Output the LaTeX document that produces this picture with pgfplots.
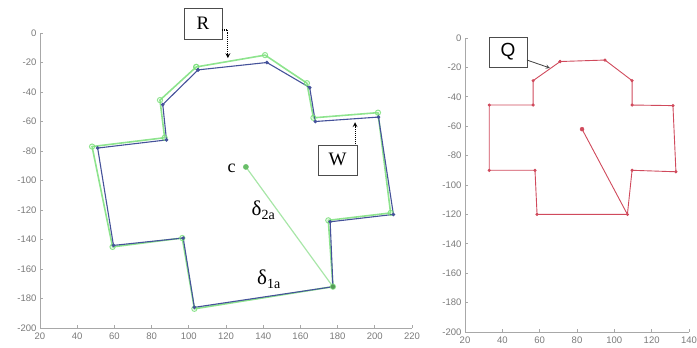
\documentclass[border=0pt]{standalone}
\usepackage{pgfplots}
\pgfplotsset{compat=1.18}
\usepackage{fontspec}
\setmainfont{Liberation Serif}
\setsansfont{Liberation Sans}
\definecolor{axgray}{HTML}{A8A8A8}
\definecolor{labgray}{HTML}{7A7A7A}
\definecolor{bl}{HTML}{45529A}
\definecolor{gr}{HTML}{7ADF7A}
\definecolor{lgr}{HTML}{A8E6A8}
\definecolor{rd}{HTML}{D04A5C}
\newcommand{\dl}[1]{{\fontsize{21}{21}\selectfont δ}\raisebox{-4pt}{\fontsize{14}{14}\selectfont #1}}
\pgfplotsset{
  mystyle/.style={
    scale only axis, clip=false,
    axis x line*=bottom, axis y line*=left,
    x axis line style={-, draw=axgray, line width=0.9pt},
    y axis line style={-, draw=axgray, line width=0.9pt},
    tick style={draw=axgray, line width=0.7pt},
    tick align=inside, major tick length=3pt,
    ticklabel style={font=\fontsize{9.5}{9.5}\selectfont\sffamily, text=labgray},
    ymin=-200, ymax=0,
    ytick={-200,-180,...,0},
    yticklabels={-200,-180,-160,-140,-120,-100,-80,-60,-40,-20,0},
    xticklabel style={yshift=-1pt},
  }
}
\begin{document}
\begin{tikzpicture}
% left panel
\begin{axis}[mystyle, at={(40pt,20pt)}, anchor=south west, width=372pt, height=295pt,
  xmin=20, xmax=220, xtick={20,40,...,220},
  xticklabels={20,40,60,80,100,120,140,160,180,200,220}]
\addplot[lgr, line width=1.2pt] coordinates {(130.7,-90.8) (177.5,-172)};
\addplot[gr, line width=1.6pt, opacity=0.85, mark=o, mark size=2.6pt, mark options={line width=1pt}] coordinates {
(104,-23) (141,-15) (163.5,-34) (167,-57.5) (201.7,-54) (208.5,-122) (175,-127) (177.5,-172)
(103,-187) (96.5,-139) (59,-145) (48,-77) (87,-71) (84.5,-45.5) (104,-23)};
\addplot[bl, line width=1.1pt, mark=*, mark size=1.2pt] coordinates {
(105,-25) (142,-20) (165,-37) (168,-60) (202,-57) (210,-123) (176,-128) (177.5,-172)
(103,-186) (97,-139) (59.5,-144) (51,-78) (88,-72.5) (86,-48.5) (105,-25)};
\addplot[only marks, mark=*, mark size=2.6pt, color=gr!85!black] coordinates {(130.7,-90.8)};
\addplot[only marks, mark=*, mark size=2pt, color=gr!70!black] coordinates {(177.5,-172)};
\node[font=\fontsize{18}{18}\selectfont] at (axis cs:123,-92) {c};
\node at (axis cs:140,-120) {\dl{2a}};
\node at (axis cs:143,-167) {\dl{1a}};
\node[draw=black!70, line width=0.6pt, fill=white, minimum width=38pt, minimum height=31pt, inner sep=0pt, font=\fontsize{19}{19}\selectfont] at (axis cs:107.6,6.4) {R};
\draw[densely dotted, line width=1.1pt, -stealth] (axis cs:117.8,2) -- (axis cs:121,2) -- (axis cs:121,-17);
\node[draw=black!70, line width=0.6pt, fill=white, minimum width=39pt, minimum height=30pt, inner sep=0pt, font=\fontsize{19}{19}\selectfont] at (axis cs:180,-86) {W};
\draw[densely dotted, line width=1.1pt, -stealth] (axis cs:189.4,-75.5) -- (axis cs:189.4,-60.5);
\end{axis}
% right panel
\begin{axis}[mystyle, at={(465pt,16pt)}, anchor=south west, width=224pt, height=294pt,
  xmin=20, xmax=140, xtick={20,40,...,140},
  xticklabels={20,40,60,80,100,120,140}]
\addplot[rd, line width=0.9pt, mark=*, mark size=1.1pt] coordinates {
(71,-16) (95,-15) (109.5,-29) (109.5,-45.6) (131.4,-46) (133,-91) (109.5,-90) (107,-120)
(58.6,-120) (57.5,-90) (33,-90) (33,-45.6) (56.5,-45.6) (56.5,-29) (71,-16)};
\addplot[rd, line width=0.9pt] coordinates {(82.7,-62) (107,-120)};
\addplot[only marks, mark=*, mark size=2pt, color=rd] coordinates {(82.7,-62)};
\node[draw=black!70, line width=0.6pt, fill=white, minimum width=38pt, minimum height=30pt, inner sep=0pt, font=\sffamily\fontsize{19}{19}\selectfont] at (axis cs:43,-9.5) {Q};
\draw[line width=0.8pt, black!75, -stealth] (axis cs:53.2,-15) -- (axis cs:65.5,-20.4);
\end{axis}
\pgfresetboundingbox
\path (0pt,0pt) rectangle (697pt,348pt);
\end{tikzpicture}
\end{document}
